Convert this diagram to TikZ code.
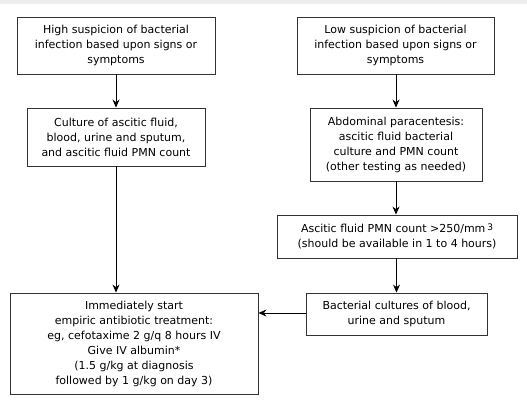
\documentclass[tikz,border=0pt]{standalone}
\usepackage{fontspec}
\setmainfont{DejaVu Sans}
\usetikzlibrary{arrows.meta}

\tikzset{
  stepbox/.style = {shape=rectangle, draw=black!80, line width=0.9pt,
    align=center, inner sep=0pt, font=\fontsize{11}{15}\selectfont},
  flow/.style = {-{Stealth[length=8pt,width=7pt]}, line width=0.9pt}
}

\begin{document}
\begin{tikzpicture}[x=1pt, y=1pt]
  \useasboundingbox (0,0) rectangle (527,-405);
  \fill[black!7] (0,0) rectangle (527,-4);
  % left column
  \node[stepbox, minimum width=198pt, minimum height=57pt] (highsusp) at (116,-45.5)
    {High suspicion of bacterial\\infection based upon signs or\\symptoms};
  \node[stepbox, minimum width=178pt, minimum height=58pt] (cultall) at (116,-137)
    {Culture of ascitic fluid,\\blood, urine and sputum,\\and ascitic fluid PMN count};
  \node[stepbox, minimum width=248pt, minimum height=101pt] (treat) at (134,-343.5)
    {Immediately start\\empiric antibiotic treatment:\\eg, cefotaxime 2 g/q 8 hours IV\\Give IV albumin*\\(1.5 g/kg at diagnosis\\followed by 1 g/kg on day 3)};
  % right column
  \node[stepbox, minimum width=197pt, minimum height=57pt] (lowsusp) at (395.5,-45.5)
    {Low suspicion of bacterial\\infection based upon signs or\\symptoms};
  \node[stepbox, minimum width=172pt, minimum height=73pt] (paracent) at (396,-144.5)
    {Abdominal paracentesis:\\ascitic fluid bacterial\\culture and PMN count\\(other testing as needed)};
  \node[stepbox, minimum width=240pt, minimum height=43pt] (pmncount) at (397,-236.5)
    {Ascitic fluid PMN count >250/mm\,\raisebox{0.45ex}{\small 3}\\(should be available in 1 to 4 hours)};
  \node[stepbox, minimum width=181pt, minimum height=42pt] (cultbus) at (396.5,-314)
    {Bacterial cultures of blood,\\urine and sputum};
  % connectors
  \draw[flow] (highsusp) -- (cultall);
  \draw[flow] (cultall) -- (cultall |- treat.north);
  \draw[flow] (lowsusp.south -| paracent) -- (paracent);
  \draw[flow] (paracent) -- (paracent |- pmncount.north);
  \draw[flow] (pmncount.south -| cultbus) -- (cultbus);
  \draw[flow] (cultbus.west |- 0,-313) -- (treat.east |- 0,-313);
\end{tikzpicture}
\end{document}
